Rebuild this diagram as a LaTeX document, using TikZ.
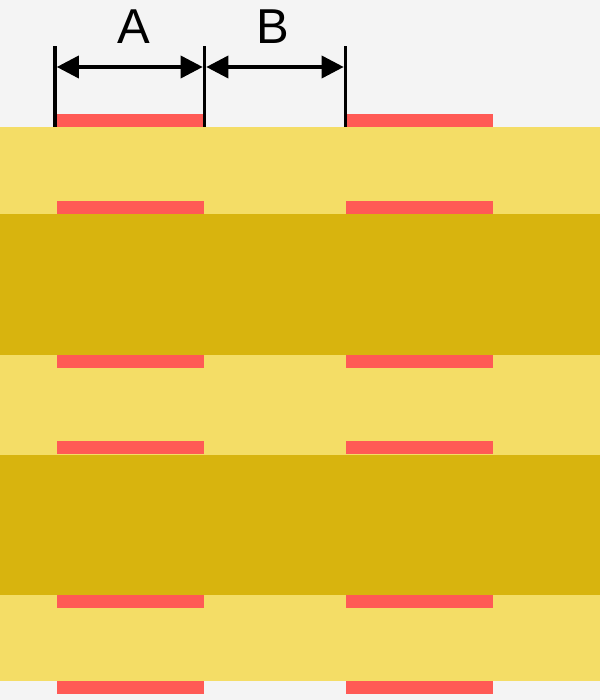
\documentclass[tikz,border=0pt]{standalone}
\usepackage{fontspec}
\setmainfont{Liberation Sans}
\usetikzlibrary{arrows.meta}
\definecolor{bgcol}{HTML}{F4F4F4}
\definecolor{lightband}{HTML}{F4DD66}
\definecolor{darkband}{HTML}{D8B40E}
\definecolor{padcol}{HTML}{FF5A55}
\begin{document}
\begin{tikzpicture}[x=1pt,y=-1pt,
  dimline/.style={line width=3.6pt, black},
  dimarrow/.style={line width=3.6pt, black, {Triangle[length=22pt,width=22pt]}-{Triangle[length=22pt,width=22pt]}},
  lbl/.style={font=\fontsize{49}{49}\selectfont, anchor=base, inner sep=0pt}]
\fill[bgcol] (0,0) rectangle (600,700);
\useasboundingbox (0,0) rectangle (600,700);
% layers
\fill[lightband] (0,127) rectangle (600,681);
\fill[darkband] (0,214) rectangle (600,355);
\fill[darkband] (0,455) rectangle (600,595);
% pads
\foreach \y in {114,201,355,441,595,681} {
  \fill[padcol] (57,\y) rectangle (204,\y+13);
  \fill[padcol] (346,\y) rectangle (493,\y+13);
}
% dimension extension lines
\coordinate (l1t) at (55,46.5);   \coordinate (l1b) at (55,127);
\coordinate (l2t) at (204.5,46.5); \coordinate (l2b) at (204.5,127);
\coordinate (l3t) at (345.5,46.5); \coordinate (l3b) at (345.5,127);
\draw[dimline] (l1t) -- (l1b);
\draw[dimline] (l2t) -- (l2b);
\draw[dimline] (l3t) -- (l3b);
% arrows
\coordinate (a1) at (56.8,67);  \coordinate (a2) at (202.7,67);
\coordinate (b1) at (206.3,67);   \coordinate (b2) at (343.7,67);
\draw[dimarrow] (a1) -- (a2);
\draw[dimarrow] (b1) -- (b2);
% labels
\node[lbl] (labA) at (133.5,43.5) {A};
\node[lbl] (labB) at (272.5,43.5) {B};
\end{tikzpicture}
\end{document}
